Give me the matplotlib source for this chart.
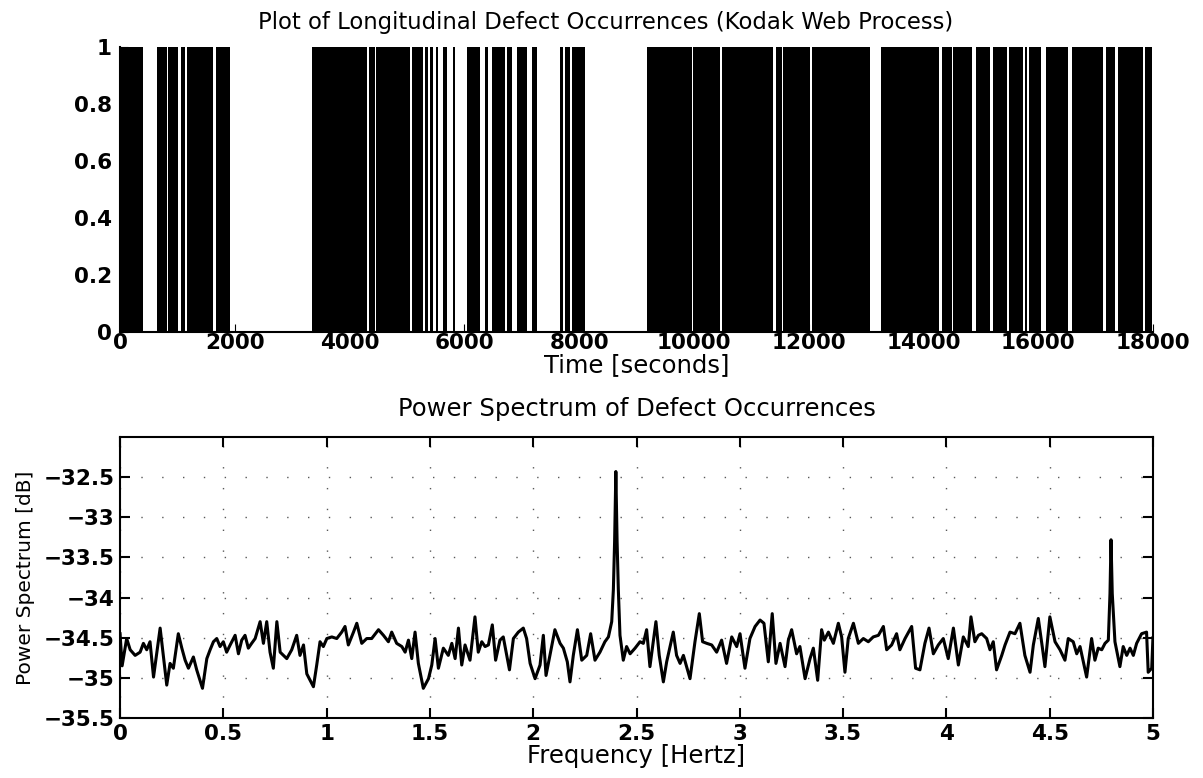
import matplotlib.pyplot as plt

# busy stretches of the longitudinal defect signal (seconds)
defect_start = [0, 650, 842, 1057, 1173, 1667, 3340, 4344, 4461, 5094, 5315, 5402,
                5500, 5634, 5800, 6041, 6360, 6476, 6738, 6912, 7185, 7667, 7754,
                7870, 9177, 9990, 10484, 11430, 11558, 12052, 13255, 14317, 14521,
                14910, 15218, 15496, 15769, 15839, 16135, 16582, 17181, 17396, 17860]
defect_end = [395, 813, 1016, 1133, 1626, 1917, 4298, 4443, 5053, 5274, 5373, 5460,
              5547, 5692, 5830, 6273, 6418, 6709, 6825, 7086, 7260, 7725, 7841,
              8103, 9961, 10455, 11384, 11529, 12023, 13069, 14277, 14492, 14840,
              15160, 15450, 15740, 15798, 16042, 16524, 17134, 17338, 17831, 17988]

# power spectrum
freq_hz = [0.0, 0.01, 0.021, 0.032, 0.049, 0.073, 0.097, 0.113, 0.129, 0.145, 0.162, 0.194,
           0.226, 0.242, 0.258, 0.282, 0.299, 0.315, 0.331, 0.355, 0.371, 0.399, 0.42,
           0.436, 0.452, 0.468, 0.484, 0.5, 0.516, 0.533, 0.557, 0.573, 0.589, 0.605,
           0.621, 0.637, 0.654, 0.678, 0.694, 0.71, 0.726, 0.742, 0.759, 0.775, 0.791,
           0.807, 0.831, 0.855, 0.871, 0.888, 0.904, 0.936, 0.952, 0.968, 0.984, 1.001,
           1.025, 1.049, 1.073, 1.089, 1.105, 1.13, 1.146, 1.17, 1.194, 1.218, 1.251,
           1.275, 1.299, 1.315, 1.339, 1.364, 1.38, 1.396, 1.412, 1.428, 1.444, 1.468,
           1.493, 1.509, 1.525, 1.541, 1.565, 1.589, 1.606, 1.622, 1.638, 1.654, 1.67,
           1.694, 1.718, 1.734, 1.751, 1.767, 1.783, 1.802, 1.818, 1.839, 1.855, 1.885,
           1.904, 1.928, 1.952, 1.968, 1.985, 2.009, 2.033, 2.049, 2.062, 2.081, 2.105,
           2.13, 2.146, 2.165, 2.178, 2.194, 2.214, 2.235, 2.259, 2.278, 2.299, 2.323,
           2.347, 2.364, 2.38, 2.388, 2.394, 2.4, 2.406, 2.412, 2.42, 2.436, 2.452,
           2.469, 2.493, 2.517, 2.533, 2.549, 2.565, 2.594, 2.61, 2.63, 2.646, 2.678,
           2.694, 2.711, 2.727, 2.759, 2.783, 2.804, 2.82, 2.84, 2.864, 2.888, 2.912,
           2.936, 2.961, 2.985, 3.001, 3.025, 3.049, 3.074, 3.098, 3.117, 3.138, 3.157,
           3.175, 3.195, 3.219, 3.235, 3.251, 3.275, 3.291, 3.316, 3.34, 3.356, 3.377,
           3.396, 3.409, 3.429, 3.453, 3.477, 3.493, 3.509, 3.525, 3.55, 3.574, 3.598,
           3.622, 3.646, 3.671, 3.695, 3.711, 3.735, 3.759, 3.775, 3.8, 3.832, 3.851,
           3.872, 3.896, 3.916, 3.937, 3.961, 3.985, 4.009, 4.034, 4.058, 4.082, 4.106,
           4.119, 4.138, 4.155, 4.171, 4.195, 4.211, 4.227, 4.243, 4.268, 4.284, 4.308,
           4.332, 4.356, 4.38, 4.405, 4.421, 4.445, 4.464, 4.477, 4.501, 4.526, 4.55,
           4.574, 4.59, 4.614, 4.631, 4.647, 4.679, 4.703, 4.719, 4.735, 4.752, 4.768,
           4.784, 4.792, 4.797, 4.803, 4.816, 4.84, 4.856, 4.873, 4.889, 4.905, 4.921,
           4.945, 4.969, 4.977, 4.994, 5.0]
power_db = [-34.45, -34.85, -34.68, -34.51, -34.65, -34.72, -34.68, -34.57, -34.65, -34.55,
            -34.99, -34.38, -35.09, -34.82, -34.88, -34.45, -34.63, -34.78, -34.88, -34.74,
            -34.90, -35.13, -34.76, -34.65, -34.55, -34.51, -34.61, -34.55, -34.68, -34.59,
            -34.47, -34.70, -34.53, -34.47, -34.63, -34.57, -34.51, -34.30, -34.57, -34.30,
            -34.68, -34.88, -34.30, -34.68, -34.72, -34.76, -34.65, -34.47, -34.72, -34.59,
            -34.95, -35.11, -34.84, -34.55, -34.61, -34.51, -34.49, -34.51, -34.43, -34.36,
            -34.59, -34.43, -34.32, -34.57, -34.51, -34.51, -34.40, -34.47, -34.55, -34.43,
            -34.57, -34.61, -34.68, -34.53, -34.76, -34.43, -34.82, -35.13, -35.01, -34.84,
            -34.51, -34.88, -34.63, -34.72, -34.57, -34.76, -34.38, -34.84, -34.59,
            -34.78, -34.24, -34.68, -34.55, -34.61, -34.59, -34.34, -34.78, -34.53, -34.49,
            -34.90, -34.51, -34.43, -34.38, -34.51, -34.82, -35.01, -34.84, -34.47, -34.97,
            -34.72, -34.40, -34.57, -34.63, -34.80, -35.05, -34.72, -34.40, -34.78, -34.72,
            -34.45, -34.78, -34.68, -34.55, -34.49, -34.30, -33.90, -33.30, -32.43, -33.30,
            -33.90, -34.47, -34.78, -34.61, -34.70, -34.63, -34.55, -34.57, -34.40, -34.86,
            -34.30, -34.72, -35.05, -34.80, -34.43, -34.72, -34.82, -34.72, -35.01, -34.55,
            -34.20, -34.55, -34.57, -34.59, -34.68, -34.53, -34.82, -34.49, -34.61, -34.45,
            -34.88, -34.51, -34.36, -34.28, -34.32, -34.80, -34.20, -34.82, -34.57, -34.86,
            -34.53, -34.40, -34.70, -34.61, -35.01, -34.76, -34.63, -35.03, -34.40, -34.53,
            -34.43, -34.57, -34.32, -34.49, -34.93, -34.51, -34.32, -34.57, -34.51, -34.55,
            -34.49, -34.47, -34.36, -34.65, -34.59, -34.45, -34.65, -34.51, -34.36, -34.88,
            -34.90, -34.57, -34.38, -34.70, -34.59, -34.51, -34.76, -34.38, -34.84, -34.49,
            -34.61, -34.24, -34.55, -34.47, -34.45, -34.51, -34.65, -34.55, -34.90, -34.72,
            -34.59, -34.43, -34.45, -34.32, -34.72, -34.93, -34.59, -34.26, -34.61, -34.86,
            -34.24, -34.55, -34.65, -34.78, -34.51, -34.55, -34.70, -34.61, -34.99, -34.51,
            -34.78, -34.63, -34.65, -34.57, -34.53, -33.95, -33.28, -33.95, -34.55, -34.86,
            -34.61, -34.72, -34.63, -34.72, -34.57, -34.45, -34.43, -34.93, -34.88, -34.50]

time_ticks = [0, 2000, 4000, 6000, 8000, 10000, 12000, 14000, 16000, 18000]
occ_ticks = [0, 0.2, 0.4, 0.6, 0.8, 1]
occ_labels = ['0', '0.2', '0.4', '0.6', '0.8', '1']
freq_ticks = [0, 0.5, 1, 1.5, 2, 2.5, 3, 3.5, 4, 4.5, 5]
freq_labels = ['0', '0.5', '1', '1.5', '2', '2.5', '3', '3.5', '4', '4.5', '5']
db_ticks = [-35.5, -35, -34.5, -34, -33.5, -33, -32.5]
db_labels = ['\u221235.5', '\u221235', '\u221234.5', '\u221234', '\u221233.5', '\u221233', '\u221232.5']

plt.rcParams['font.family'] = 'DejaVu Sans'
fig = plt.figure(figsize=(12.03, 7.78), dpi=100)

# top: defect occurrences
ax1 = fig.add_axes([0.0998, 0.5733, 0.8586, 0.3663])
spans = [(s, e - s) for s, e in zip(defect_start, defect_end)]
ax1.broken_barh(spans, (0, 1), facecolors='black', edgecolor='none')
ax1.axhline(0, color='black', lw=2)
ax1.set_xlim(0, 18000)
ax1.set_ylim(0, 1)
ax1.set_xticks(time_ticks)
ax1.set_xticklabels([str(t) for t in time_ticks])
ax1.set_yticks(occ_ticks)
ax1.set_yticklabels(occ_labels)
ax1.spines['top'].set_visible(False)
ax1.spines['right'].set_visible(False)
ax1.spines['left'].set_linewidth(1.5)
ax1.spines['bottom'].set_linewidth(1.5)
ax1.tick_params(direction='in', length=6, labelsize=15.5)
ax1.tick_params(axis='x', pad=1)
ax1.tick_params(axis='y', pad=6)
for lab in ax1.get_xticklabels() + ax1.get_yticklabels():
    lab.set_fontweight('bold')
ax1.set_title('Plot of Longitudinal Defect Occurrences (Kodak Web Process)',
              fontsize=16.4, pad=13, x=0.47)
ax1.set_xlabel('Time [seconds]', fontsize=17.5, labelpad=0)

# bottom: power spectrum
ax2 = fig.add_axes([0.0998, 0.0771, 0.8586, 0.3612])
ax2.plot(freq_hz, power_db, color='black', lw=2.2)
ax2.set_xlim(0, 5)
ax2.set_ylim(-35.5, -32)
ax2.set_xticks(freq_ticks)
ax2.set_xticklabels(freq_labels)
ax2.set_yticks(db_ticks)
ax2.set_yticklabels(db_labels)
ax2.grid(True, color='0.35', lw=1, linestyle=(0, (1, 14)))
for sp in ax2.spines.values():
    sp.set_linewidth(1.5)
ax2.tick_params(direction='in', length=7, width=1.5, labelsize=15.5, pad=4,
                top=True, right=True)
for lab in ax2.get_xticklabels() + ax2.get_yticklabels():
    lab.set_fontweight('bold')
ax2.set_title('Power Spectrum of Defect Occurrences', fontsize=17.5, pad=15)
ax2.set_xlabel('Frequency [Hertz]', fontsize=17.5, labelpad=0)
ax2.set_ylabel('Power Spectrum [dB]', fontsize=14.5, labelpad=6)

fig.savefig('out.png', dpi=100)
